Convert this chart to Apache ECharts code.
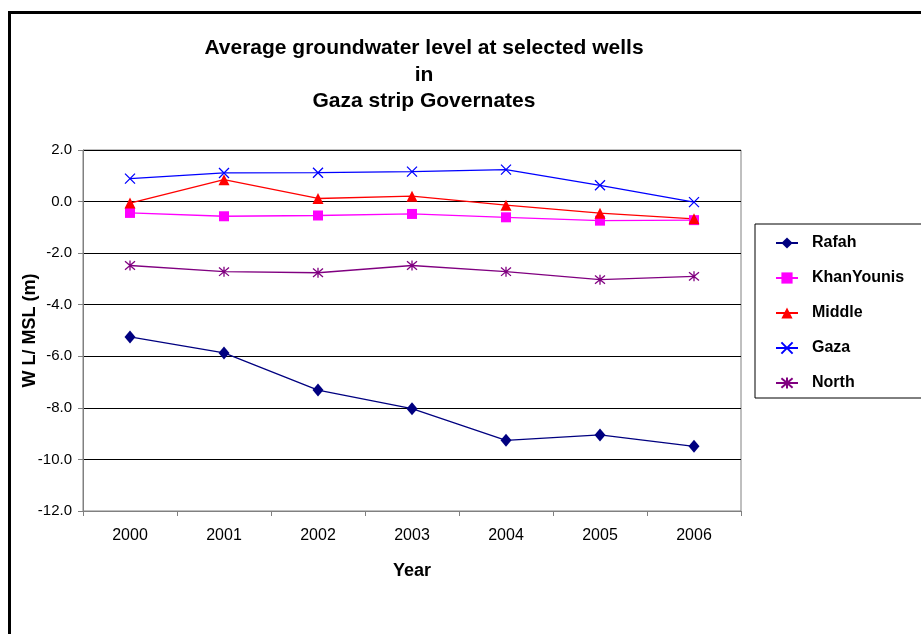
<!DOCTYPE html>
<html>
<head>
<meta charset="utf-8">
<script src="https://cdn.jsdelivr.net/npm/echarts@6/dist/echarts.min.js"></script>
<style>
  html, body { margin: 0; padding: 0; background: #fff; }
  #chart { width: 921px; height: 634px; }
</style>
</head>
<body>
<div id="chart"></div>
<script>
// Years on the horizontal axis
const years = ['2000', '2001', '2002', '2003', '2004', '2005', '2006'];

// Average water level relative to mean sea level (m) per governorate
const rafah      = [-5.25, -5.87, -7.31, -8.03, -9.26, -9.05, -9.49];
const khanYounis = [-0.44, -0.57, -0.54, -0.48, -0.61, -0.74, -0.72];
const middle     = [-0.06, 0.85, 0.12, 0.21, -0.14, -0.45, -0.67];
const gaza       = [0.89, 1.11, 1.12, 1.16, 1.24, 0.63, -0.02];
const north      = [-2.48, -2.72, -2.76, -2.48, -2.72, -3.03, -2.90];

// Value axis range and step
const yMin = -12;
const yMax = 2;
const yStep = 2;

const FONT = '"Liberation Sans", Arial, sans-serif';

// Stroke-only marker shapes
const crossPath = 'path://M0,0L10,10M10,0L0,10';
const starPath = 'path://M0,0L10,10M10,0L0,10M5,-1L5,11';

function lineSeries(name, data, color, symbol, size, stroked) {
  return {
    name: name,
    type: 'line',
    data: data,
    symbol: symbol,
    symbolSize: size,
    showAllSymbol: true,
    lineStyle: { color: color, width: 1.3 },
    itemStyle: stroked
      ? { color: 'rgba(0,0,0,0)', borderColor: color, borderWidth: 1.3 }
      : { color: color, borderColor: color, borderWidth: 0 },
    emphasis: { disabled: true },
    animation: false,
    z: 3
  };
}

const chart = echarts.init(document.getElementById('chart'), null, { renderer: 'canvas' });

chart.setOption({
  backgroundColor: '#fff',
  animation: false,
  title: {
    text: 'Average groundwater level at selected wells\nin\nGaza strip Governates',
    left: 419,
    textAlign: 'center',
    top: 30,
    textStyle: {
      fontFamily: FONT,
      fontSize: 21,
      fontWeight: 'bold',
      color: '#000',
      lineHeight: 26.5
    }
  },
  grid: {
    left: 83,
    right: 180,
    top: 150,
    bottom: 123,
    show: true,
    borderColor: '#808080',
    borderWidth: 1,
    backgroundColor: 'transparent'
  },
  legend: {
    orient: 'vertical',
    left: 755,
    top: 224,
    padding: [11, 40, 7, 20],
    itemGap: 19,
    itemWidth: 22,
    itemHeight: 14,
    borderColor: '#000',
    borderWidth: 1,
    textStyle: {
      fontFamily: FONT,
      fontSize: 16,
      fontWeight: 'bold',
      color: '#000',
      padding: [0, 0, 0, 9]
    },
    data: ['Rafah', 'KhanYounis', 'Middle', 'Gaza', 'North']
  },
  xAxis: {
    type: 'category',
    data: years,
    boundaryGap: true,
    name: 'Year',
    nameLocation: 'middle',
    nameGap: 51,
    nameTextStyle: { fontFamily: FONT, fontSize: 18, fontWeight: 'bold', color: '#000' },
    axisLine: { show: true, onZero: false, lineStyle: { color: '#808080', width: 1 } },
    axisTick: { show: true, inside: false, length: 5, lineStyle: { color: '#808080' } },
    axisLabel: { fontFamily: FONT, fontSize: 16, color: '#000', margin: 17 },
    splitLine: { show: false }
  },
  yAxis: {
    type: 'value',
    min: yMin,
    max: yMax,
    interval: yStep,
    name: 'W L/ MSL (m)',
    nameLocation: 'middle',
    nameGap: 44,
    nameMoveOverlap: false,
    nameRotate: 90,
    nameTextStyle: { fontFamily: FONT, fontSize: 18, fontWeight: 'bold', color: '#000' },
    axisLine: { show: true, lineStyle: { color: '#808080', width: 1 } },
    axisTick: { show: true, inside: false, length: 5, lineStyle: { color: '#808080' } },
    axisLabel: {
      fontFamily: FONT,
      fontSize: 15,
      color: '#000',
      margin: 11,
      formatter: v => v.toFixed(1)
    },
    splitLine: { show: true, lineStyle: { color: '#000', width: 1 } }
  },
  graphic: [
    {
      type: 'rect',
      left: 7,
      top: 10,
      shape: { x: 0, y: 0, width: 1000, height: 1000 },
      style: { fill: 'none', stroke: '#000', lineWidth: 3 },
      silent: true,
      z: -1
    }
  ],
  series: [
    lineSeries('Rafah', rafah, '#000080', 'diamond', [11, 13], false),
    lineSeries('KhanYounis', khanYounis, '#FF00FF', 'rect', 10, false),
    lineSeries('Middle', middle, '#FF0000', 'triangle', 11, false),
    lineSeries('Gaza', gaza, '#0000FF', crossPath, 10, true),
    lineSeries('North', north, '#800080', starPath, 10, true)
  ]
});
</script>
</body>
</html>
